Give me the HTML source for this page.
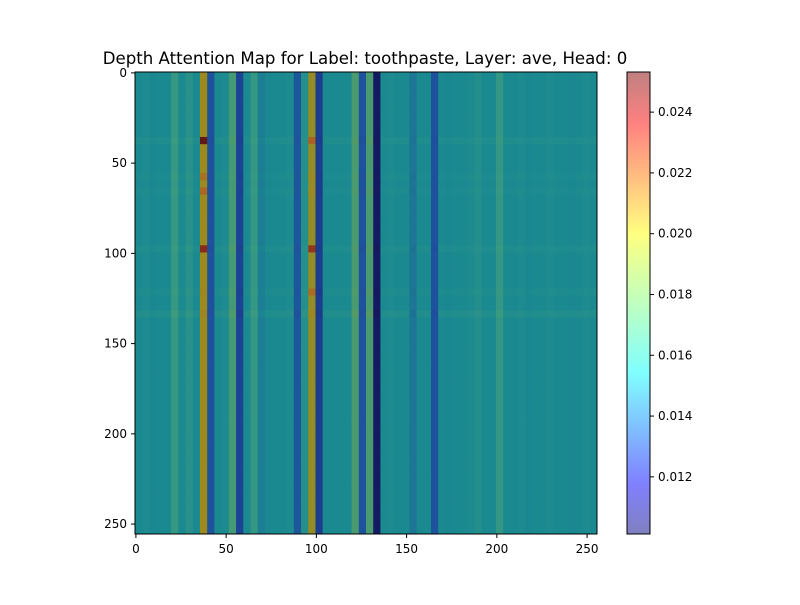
<!DOCTYPE html>
<html><head><meta charset="utf-8"><style>
body{margin:0;background:#fff;font-family:"Liberation Sans",sans-serif}
svg text{font-family:"DejaVu Sans","Liberation Sans",sans-serif;font-size:12px;fill:#000}
</style></head><body>
<svg id="chart" width="800" height="600">
<defs><linearGradient id="jet" x1="0" y1="1" x2="0" y2="0">
<stop offset="0" stop-color="#8080bf"/><stop offset="0.11" stop-color="#8080ff"/><stop offset="0.35" stop-color="#80ffff"/><stop offset="0.5" stop-color="#bfffbf"/><stop offset="0.65" stop-color="#ffff80"/><stop offset="0.89" stop-color="#ff8080"/><stop offset="1" stop-color="#bf8080"/></linearGradient></defs>
<text x="365" y="64" text-anchor="middle" style="font-size:16.6px">Depth Attention Map for Label: toothpaste, Layer: ave, Head: 0</text>
<g id="cells"></g>
<rect x="135" y="72" width="462" height="462" fill="none" stroke="#000" stroke-width="1"/>
<g id="axes"></g>
<rect x="627" y="72" width="23" height="462" fill="url(#jet)" stroke="#000"/>
<g id="cbticks"></g>
</svg>
<script>
const colValues=[0.0150,0.0151,0.0149,0.0150,0.0150,0.0163,0.0150,0.0157,0.0150,0.0195,0.0128,0.0150,0.0151,0.0168,0.0122,0.0150,0.0162,0.0145,0.0149,0.0150,0.0150,0.0151,0.0130,0.0155,0.0193,0.0120,0.0150,0.0150,0.0150,0.0150,0.0170,0.0128,0.0170,0.0105,0.0150,0.0151,0.0150,0.0150,0.0142,0.0150,0.0150,0.0128,0.0150,0.0149,0.0150,0.0150,0.0151,0.0154,0.0150,0.0150,0.0162,0.0150,0.0150,0.0151,0.0149,0.0150,0.0150,0.0151,0.0150,0.0150,0.0149,0.0150,0.0151,0.0150];
const rowOffsets={9:0.0002,24:0.0002,30:0.00015,33:0.0003,14:0.0001,16:0.0001};
const hotCells=[[9,9,0.0250],[24,9,0.0235],[9,24,0.0212],[24,24,0.0230],[16,9,0.0210],[14,9,0.0205],[30,24,0.0207]];
const xTicks=[0,50,100,150,200,250];
const yTicks=[0,50,100,150,200,250];
const cbTicks=[0.012,0.014,0.016,0.018,0.020,0.022,0.024];
const N=64,extent=256,X0=135,Y0=72,S=462;
const sx=v=>X0+v*S/extent, sy=v=>Y0+v*S/extent;
const vmin=0.01012,vmax=0.02532;
const cy=v=>534-(v-vmin)/(vmax-vmin)*462;
const stops=[[0.0102,[20,20,90]],[0.0125,[30,74,158]],[0.0150,[27,138,144]],[0.0165,[58,154,128]],[0.0180,[106,154,80]],[0.0195,[156,138,30]],[0.0215,[176,90,32]],[0.0235,[138,42,24]],[0.0253,[90,21,21]]];
function col(v){if(v<=stops[0][0])return `rgb(${stops[0][1]})`;for(let i=1;i<stops.length;i++){if(v<=stops[i][0]){const t=(v-stops[i-1][0])/(stops[i][0]-stops[i-1][0]);const a=stops[i-1][1],b=stops[i][1];return `rgb(${a.map((c,k)=>Math.round(c+(b[k]-c)*t)).join(',')})`;}}return `rgb(${stops[stops.length-1][1]})`;}
const ns="http://www.w3.org/2000/svg";
const g=document.getElementById('cells');
const hot={};hotCells.forEach(h=>hot[h[0]+'_'+h[1]]=h[2]);
const cw=extent/N;
for(let r=0;r<N;r++)for(let c=0;c<N;c++){
 let v=colValues[c]+(rowOffsets[r]||0)*(colValues[c]<0.0145?-0.5:1);
 if(hot[r+'_'+c]!==undefined)v=hot[r+'_'+c];
 const e=document.createElementNS(ns,'rect');
 e.setAttribute('x',sx(c*cw));e.setAttribute('y',sy(r*cw));
 e.setAttribute('width',S/N+0.5);e.setAttribute('height',S/N+0.5);
 e.setAttribute('fill',col(v));
 
 
 g.appendChild(e);}
const ax=document.getElementById('axes');
function add(tag,attrs,txt){const e=document.createElementNS(ns,tag);for(const k in attrs)e.setAttribute(k,attrs[k]);if(txt!==undefined)e.textContent=txt;return e;}
xTicks.forEach(t=>{const x=sx(t+0.5);
 const l=add('line',{x1:x,x2:x,y1:534,y2:538,stroke:'#000'});
 
 ax.appendChild(l);
 const tx=add('text',{x:x,y:553,'text-anchor':'middle'},t);
 
 ax.appendChild(tx);});
yTicks.forEach(t=>{const y=sy(t+0.5);
 const l=add('line',{x1:131,x2:135,y1:y,y2:y,stroke:'#000'});
 
 ax.appendChild(l);
 const tx=add('text',{x:127,y:y+4,'text-anchor':'end'},t);
 
 ax.appendChild(tx);});
const cb=document.getElementById('cbticks');
cbTicks.forEach(t=>{const y=cy(t);
 const l=add('line',{x1:650,x2:654,y1:y,y2:y,stroke:'#000'});
 
 cb.appendChild(l);
 const tx=add('text',{x:658,y:y+4},t.toFixed(3));
 
 cb.appendChild(tx);});
</script>
</body></html>
